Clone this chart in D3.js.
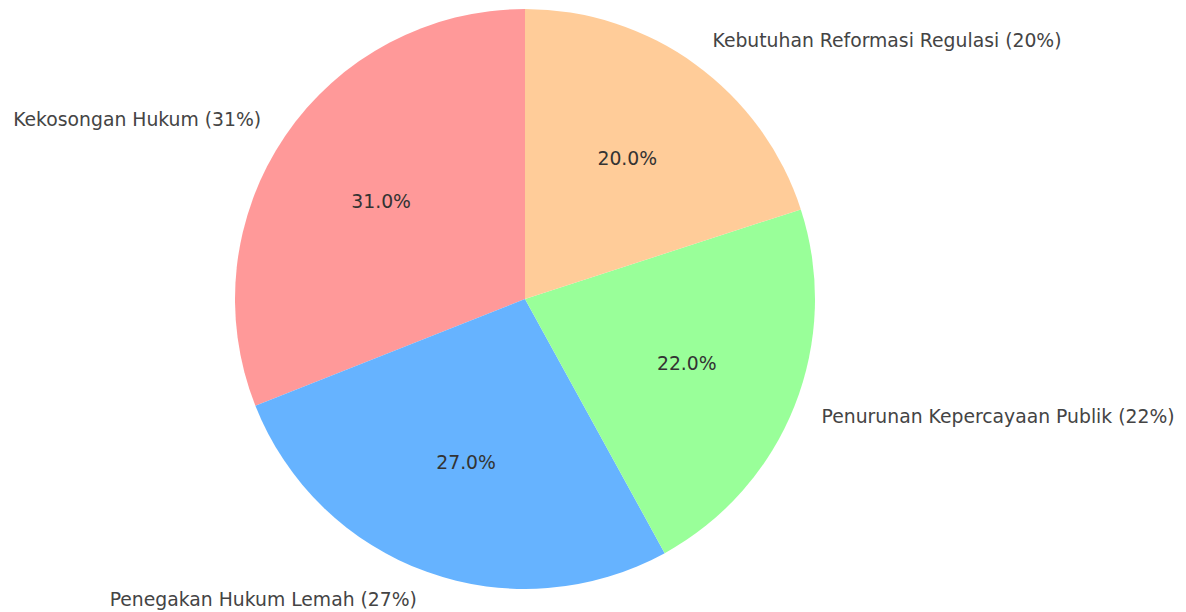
<html lang="id">

<head>
  <meta charset="utf-8">
  <title>Pie chart</title>
  <script type="text/javascript" src="https://d3js.org/d3.v7.min.js"></script>
  <style>
    body { margin: 0; background: #fff; }
    text { font-family: "DejaVu Sans", sans-serif; }
  </style>
</head>

<body>
  <script type="text/javascript">
    const labels = ["Kekosongan Hukum", "Penegakan Hukum Lemah", "Penurunan Kepercayaan Publik", "Kebutuhan Reformasi Regulasi"];
    const values = [31, 27, 22, 20];
    const colors = ["#ff9999", "#66b3ff", "#99ff99", "#ffcc99"];

    const width = 1186;
    const height = 612;
    const cx = 525, cy = 299, radius = 290;
    const fontSize = 18.8;

    const svg = d3.select("body").append("svg").attr("width", width).attr("height", height);
    const g = svg.append("g").attr("transform", `translate(${cx},${cy})`);

    const ds = labels.map((l, i) => ({ label: l, value: values[i], color: colors[i] }));
    const total = d3.sum(values);

    // counterclockwise from 12 o'clock, like the source
    const pie = d3.pie().value(d => d.value).sort(null).startAngle(0).endAngle(-2 * Math.PI);
    const arcs = pie(ds);
    const arc = d3.arc().innerRadius(0).outerRadius(radius);

    g.selectAll("path")
      .data(arcs)
      .enter()
      .append("path")
      .attr("d", arc)
      .attr("fill", d => d.data.color);

    const mid = d => (d.startAngle + d.endAngle) / 2;

    // percent labels
    g.selectAll("text.pct")
      .data(arcs)
      .enter()
      .append("text")
      .attr("class", "pct")
      .attr("x", d => Math.sin(mid(d)) * radius * 0.6)
      .attr("y", d => -Math.cos(mid(d)) * radius * 0.6)
      .attr("text-anchor", "middle")
      .attr("dominant-baseline", "central")
      .attr("font-size", fontSize)
      .attr("fill", "#333")
      .text(d => (d.data.value / total * 100).toFixed(1) + "%");

    // outer labels
    g.selectAll("text.lbl")
      .data(arcs)
      .enter()
      .append("text")
      .attr("class", "lbl")
      .attr("x", d => Math.sin(mid(d)) * radius * 1.1)
      .attr("y", d => -Math.cos(mid(d)) * radius * 1.1)
      .attr("text-anchor", d => Math.sin(mid(d)) < 0 ? "end" : "start")
      .attr("dominant-baseline", "central")
      .attr("font-size", fontSize)
      .attr("fill", "#444")
      .text(d => `${d.data.label} (${d.data.value}%)`);
  </script>
</body>

</html>
